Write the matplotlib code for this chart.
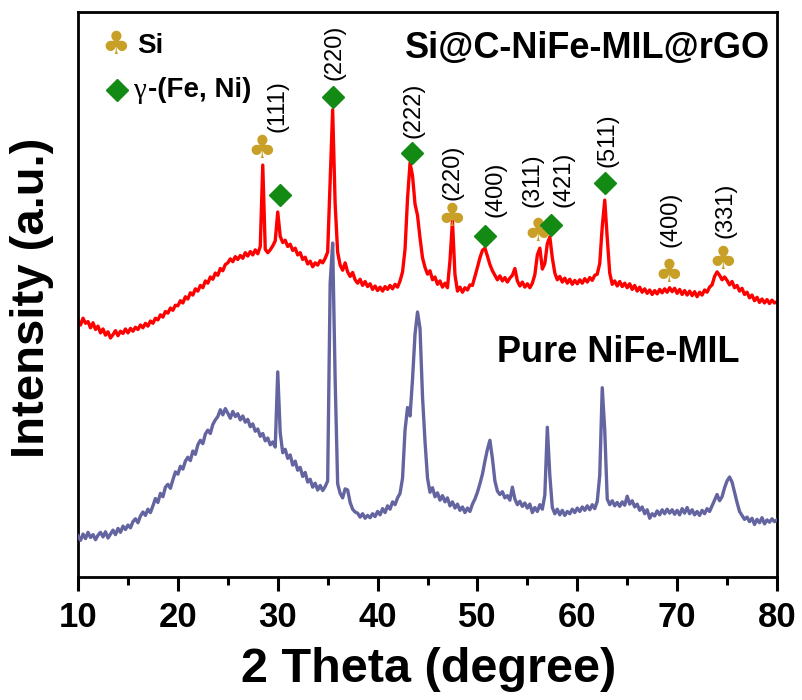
import matplotlib
matplotlib.use("Agg")
import matplotlib.pyplot as plt
import numpy as np

# 2-theta grid of the scan (0.25 deg step)
two_theta = np.arange(10.0, 80.001, 0.25)

# Si@C-NiFe-MIL@rGO (offset trace, a.u.)
red_y = [
    45.5, 44.6, 45.8, 44.9, 45.2, 44.1, 45.0, 43.8, 44.4, 43.2, 43.9, 42.8, 43.4, 42.3, 42.9, 43.6, 42.7, 43.5, 43.1, 43.9,
    43.2, 44.0, 43.5, 44.2, 43.8, 44.6, 44.1, 44.9, 44.4, 45.3, 44.9, 45.8, 45.5, 46.4, 46.0, 47.0, 46.7, 47.6, 47.2, 48.1,
    48.0, 48.9, 48.5, 49.6, 49.2, 50.3, 49.9, 51.0, 50.6, 51.6, 51.2, 52.4, 52.0, 53.1, 52.7, 53.8, 53.4, 54.6, 54.2, 55.3,
    55.6, 56.3, 55.8, 56.7, 56.2, 56.9, 56.4, 57.4, 56.8, 57.6, 57.0, 57.9, 57.2, 58.5, 72.9, 58.0, 57.4, 57.9, 58.6, 59.5,
    64.6, 60.3, 59.2, 59.6, 58.5, 58.9, 57.8, 58.2, 57.0, 57.4, 56.2, 56.6, 55.4, 55.9, 54.9, 55.6, 55.2, 56.0, 55.6, 56.4,
    57.5, 70.0, 82.7, 66.0, 57.5, 55.2, 54.3, 55.6, 54.0, 53.2, 53.9, 52.6, 52.0, 52.7, 51.6, 52.3, 51.4, 51.9, 50.9, 51.5,
    50.7, 51.3, 50.6, 51.4, 50.9, 51.6, 51.0, 51.8, 51.3, 52.4, 54.0, 58.0, 67.0, 73.3, 71.0, 66.0, 64.0, 60.0, 56.5, 54.8,
    53.6, 54.2, 52.6, 53.1, 51.8, 52.4, 51.3, 52.0, 51.2, 56.0, 63.0, 53.5, 50.6, 51.3, 50.4, 51.2, 50.8, 51.7, 51.6, 53.2,
    54.8, 56.5, 57.8, 58.2, 56.8, 55.3, 54.2, 53.4, 52.6, 53.3, 52.4, 53.0, 52.2, 52.9, 53.4, 54.6, 52.4, 51.5, 52.2, 51.3,
    51.9, 51.2, 52.0, 53.5, 57.0, 58.2, 54.5, 55.5, 59.0, 60.2, 56.5, 53.8, 52.6, 53.2, 52.2, 52.9, 52.0, 52.7, 51.8, 52.5,
    51.9, 52.6, 52.0, 52.8, 52.2, 53.0, 52.5, 53.4, 53.6, 55.5, 62.0, 66.7, 60.0, 53.8, 51.8, 52.4, 51.5, 52.3, 51.4, 52.0,
    51.2, 51.9, 50.9, 51.6, 50.6, 51.3, 50.4, 51.0, 50.2, 50.8, 50.0, 50.7, 50.1, 50.9, 50.3, 51.0, 50.4, 51.2, 50.5, 51.1,
    50.2, 50.9, 50.0, 50.7, 49.9, 50.6, 49.8, 50.5, 49.6, 50.4, 49.9, 50.8, 50.4, 51.3, 51.7, 53.2, 54.0, 53.4, 52.6, 53.1,
    52.5, 51.7, 52.3, 51.2, 51.6, 50.6, 51.1, 50.0, 50.4, 49.4, 49.9, 48.9, 49.5, 48.6, 49.2, 48.5, 49.1, 48.4, 49.0, 48.5,
    48.7,
]

# Pure NiFe-MIL
blue_y = [
    7.3, 6.5, 7.6, 6.8, 7.9, 7.0, 7.5, 6.6, 7.4, 7.9, 7.1, 8.0, 6.9, 7.6, 8.3, 7.5, 8.6, 7.9, 9.0, 8.4,
    9.2, 8.7, 9.8, 10.3, 9.6, 10.8, 11.5, 10.9, 12.0, 11.4, 12.6, 13.9, 13.2, 14.8, 14.2, 15.9, 16.4, 15.7, 17.2, 18.6,
    18.2, 19.6, 19.1, 20.5, 21.2, 20.6, 22.3, 21.7, 23.4, 24.2, 23.6, 25.3, 26.0, 25.4, 27.0, 27.8, 28.4, 29.6, 28.7, 29.8,
    29.0, 28.1, 29.3, 28.4, 28.9, 27.8, 28.5, 27.4, 27.9, 26.6, 27.1, 25.8, 26.2, 24.9, 25.4, 24.1, 24.6, 23.4, 23.9, 23.0,
    36.3, 25.5, 22.0, 22.6, 21.0, 21.6, 19.8, 20.5, 18.9, 19.4, 17.8, 18.5, 16.8, 17.3, 15.9, 16.6, 15.4, 16.2, 15.3, 16.0,
    17.0, 52.0, 59.1, 35.0, 16.5, 14.8, 14.0, 15.6, 15.4, 13.2, 12.0, 11.5, 11.3, 10.6, 11.2, 10.4, 10.9, 10.5, 11.2, 10.7,
    11.6, 11.0, 12.1, 11.4, 12.6, 12.0, 13.3, 12.8, 14.0, 14.8, 17.5, 26.0, 30.0, 28.5, 35.0, 43.0, 46.9, 44.0, 31.9, 24.0,
    17.5, 15.0, 15.8, 14.2, 14.9, 13.6, 14.4, 13.3, 14.0, 12.6, 13.3, 12.2, 12.9, 11.8, 12.4, 11.4, 12.2, 11.6, 12.9, 13.8,
    15.0, 16.5, 18.2, 20.5, 22.6, 24.2, 21.0, 17.0, 15.2, 14.6, 15.1, 14.0, 14.4, 13.6, 15.9, 13.8, 12.8, 13.4, 12.5, 13.1,
    12.2, 12.9, 11.4, 12.3, 11.6, 12.8, 12.0, 14.5, 26.5, 18.0, 12.3, 11.2, 12.0, 11.0, 11.8, 10.9, 11.6, 11.2, 12.0, 11.4,
    12.2, 11.6, 12.4, 11.8, 12.6, 11.9, 12.8, 12.1, 13.4, 18.0, 33.5, 26.0, 13.8, 12.8, 13.5, 12.6, 13.2, 12.5, 13.3, 12.7,
    14.3, 12.9, 13.5, 12.4, 12.9, 11.8, 12.4, 11.2, 11.9, 10.4, 11.2, 10.8, 11.7, 11.0, 11.9, 11.2, 12.0, 11.3, 11.9, 11.1,
    11.8, 11.0, 12.1, 11.3, 12.3, 11.2, 11.9, 11.0, 11.6, 10.9, 11.8, 11.2, 12.1, 11.6, 12.6, 13.6, 14.6, 13.5, 14.2, 15.8,
    17.0, 17.7, 16.8, 15.0, 13.2, 11.6, 10.9, 10.2, 10.6, 9.8, 10.4, 9.3, 10.2, 9.6, 10.5, 9.4, 10.1, 9.7, 10.3, 9.8,
    10.1,
]

# peak markers
si_x = [28.4, 47.4, 56.0, 69.2, 74.6]
si_y = [75.6, 63.7, 60.9, 53.8, 56.1]
fe_x = [30.2, 35.5, 43.4, 50.8, 57.4, 62.8]
fe_y = [67.6, 85.0, 75.0, 60.4, 62.3, 69.7]

# Miller indices
hkl_labels = ["(111)", "(220)", "(222)", "(220)", "(400)", "(311)", "(421)", "(511)", "(400)", "(331)"]
hkl_x = [30.0, 35.7, 43.6, 47.5, 51.8, 55.5, 58.6, 63.0, 69.3, 74.8]
hkl_y = [78.8, 88.0, 77.7, 66.7, 63.7, 65.5, 65.5, 72.6, 58.4, 60.0]

x_ticks = [10, 20, 30, 40, 50, 60, 70, 80]

RED = "#FF0000"
BLUE = "#6464A0"
GOLD = "#C9A027"
GREEN = "#138A13"

plt.rcParams["font.family"] = ["Liberation Sans", "DejaVu Sans"]

fig = plt.figure(figsize=(8.02, 7.0), dpi=100)
ax = fig.add_axes([0.0973, 0.1757, 0.8715, 0.8072])

ax.plot(two_theta, red_y, color=RED, lw=2.4, zorder=2)
ax.plot(two_theta, blue_y, color=BLUE, lw=2.4, zorder=3)

for x, y in zip(si_x, si_y):
    ax.text(x, y, "\u2663", color=GOLD, fontsize=23, ha="center", va="center",
            family="DejaVu Sans", zorder=4)
ax.plot(fe_x, fe_y, "D", color=GREEN, ms=11, mec=GREEN, zorder=4, clip_on=False)

for lab, x, y in zip(hkl_labels, hkl_x, hkl_y):
    ax.text(x, y, lab, rotation=90, ha="center", va="bottom", fontsize=17, zorder=5)

# legend (hand placed)
ax.text(13.8, 94.0, "\u2663", color=GOLD, fontsize=23, ha="center", va="center", family="DejaVu Sans")
ax.text(15.9, 94.0, "Si", fontsize=20, fontweight="bold", ha="left", va="center")
ax.plot([13.9], [86.2], "D", color=GREEN, ms=11)
ax.text(15.5, 86.0, "\u03b3", fontsize=21, ha="left", va="center", family="Liberation Serif")
ax.text(17.0, 86.2, "-(Fe, Ni)", fontsize=20, fontweight="bold", ha="left", va="center")

ax.text(79.3, 93.6, "Si@C-NiFe-MIL@rGO", fontsize=26, fontweight="bold", ha="right", va="center")
ax.text(52.0, 39.8, "Pure NiFe-MIL", fontsize=26, fontweight="bold", ha="left", va="center")

ax.set_xlim(10, 80)
ax.set_ylim(0, 100)
ax.set_xticks(x_ticks)
ax.set_xticks(np.arange(15, 80, 10), minor=True)
ax.set_yticks([])
ax.tick_params(axis="x", which="major", direction="out", length=10, width=2.2, pad=7)
ax.tick_params(axis="x", which="minor", direction="out", length=6, width=2.2)
for lab in ax.get_xticklabels():
    lab.set_fontweight("bold")
    lab.set_fontsize(25)
for sp in ax.spines.values():
    sp.set_linewidth(2.0)

fig.text(0.534, 0.044, "2 Theta (degree)", fontsize=35, fontweight="bold",
         ha="center", va="center")
fig.text(0.040, 0.574, "Intensity (a.u.)", fontsize=34, fontweight="bold",
         rotation=90, ha="center", va="center")

fig.savefig("out.png", dpi=100)
